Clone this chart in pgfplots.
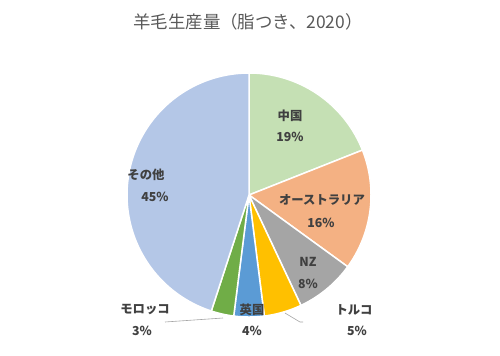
\documentclass[border=0pt]{standalone}
\usepackage{pgfplots}
\pgfplotsset{compat=1.18}
\usepackage{fontspec}
\newfontfamily\cjk{Noto Sans CJK JP}
\definecolor{cCN}{HTML}{C5E0B4}
\definecolor{cAU}{HTML}{F4B183}
\definecolor{cNZ}{HTML}{A5A5A5}
\definecolor{cTR}{HTML}{FFC000}
\definecolor{cUK}{HTML}{5B9BD5}
\definecolor{cMA}{HTML}{70AD47}
\definecolor{cOT}{HTML}{B4C7E7}
\definecolor{lbl}{HTML}{404040}
\definecolor{ttl}{HTML}{595959}
\begin{document}
\begin{tikzpicture}
\begin{axis}[scale only axis, width=500bp, height=355bp,
  xmin=0, xmax=500, ymin=0, ymax=355, axis lines=none, clip=false]
\path (rel axis cs:0,0) rectangle (rel axis cs:1,1);
% slices: start and end angles (degrees, clockwise from top), from shares 19,16,8,5,4,3,45 %
\addplot[fill=cCN, draw=white, line width=1.5pt, domain=21.6:90, samples=50, variable=\t] ({249+122*cos(\t)},{160+122*sin(\t)}) -- (axis cs:249,160) -- cycle;
\addplot[fill=cAU, draw=white, line width=1.5pt, domain=-36:21.6, samples=50, variable=\t] ({249+122*cos(\t)},{160+122*sin(\t)}) -- (axis cs:249,160) -- cycle;
\addplot[fill=cNZ, draw=white, line width=1.5pt, domain=-64.8:-36, samples=30, variable=\t] ({249+122*cos(\t)},{160+122*sin(\t)}) -- (axis cs:249,160) -- cycle;
\addplot[fill=cTR, draw=white, line width=1.5pt, domain=-82.8:-64.8, samples=20, variable=\t] ({249+122*cos(\t)},{160+122*sin(\t)}) -- (axis cs:249,160) -- cycle;
\addplot[fill=cUK, draw=white, line width=1.5pt, domain=-97.2:-82.8, samples=20, variable=\t] ({249+122*cos(\t)},{160+122*sin(\t)}) -- (axis cs:249,160) -- cycle;
\addplot[fill=cMA, draw=white, line width=1.5pt, domain=-108:-97.2, samples=20, variable=\t] ({249+122*cos(\t)},{160+122*sin(\t)}) -- (axis cs:249,160) -- cycle;
\addplot[fill=cOT, draw=white, line width=1.5pt, domain=-270:-108, samples=100, variable=\t] ({249+122*cos(\t)},{160+122*sin(\t)}) -- (axis cs:249,160) -- cycle;
% leader lines
\addplot[draw=cNZ, line width=0.6pt] coordinates {(285,42) (300,33) (303,33)};
\addplot[draw=cNZ, line width=0.6pt] coordinates {(165,33) (223,37)};
% title
\node[font=\cjk\fontsize{17.5}{20}\selectfont, text=ttl] at (axis cs:248,333) {羊毛生産量（脂つき、2020）};
% labels
\tikzset{lb/.style={font=\cjk\bfseries\fontsize{12.4}{14}\selectfont, text=lbl, inner sep=0pt},
         pc/.style={font=\cjk\bfseries\fontsize{12.4}{14}\selectfont, text=lbl, inner sep=0pt}}
\node[lb] at (axis cs:290,239) {中国};
\node[pc] at (axis cs:290,218) {19\%};
\node[lb] at (axis cs:322,155) {オーストラリア};
\node[pc] at (axis cs:321,132) {16\%};
\node[lb] at (axis cs:308,93) {NZ};
\node[pc] at (axis cs:308,71) {8\%};
\node[lb] at (axis cs:354,45) {トルコ};
\node[pc] at (axis cs:357,24) {5\%};
\node[lb] at (axis cs:252,45) {英国};
\node[pc] at (axis cs:252,24) {4\%};
\node[lb] at (axis cs:145,45) {モロッコ};
\node[pc] at (axis cs:142,24) {3\%};
\node[lb] at (axis cs:146,180) {その他};
\node[pc] at (axis cs:155,158) {45\%};
\end{axis}
\end{tikzpicture}
\end{document}
